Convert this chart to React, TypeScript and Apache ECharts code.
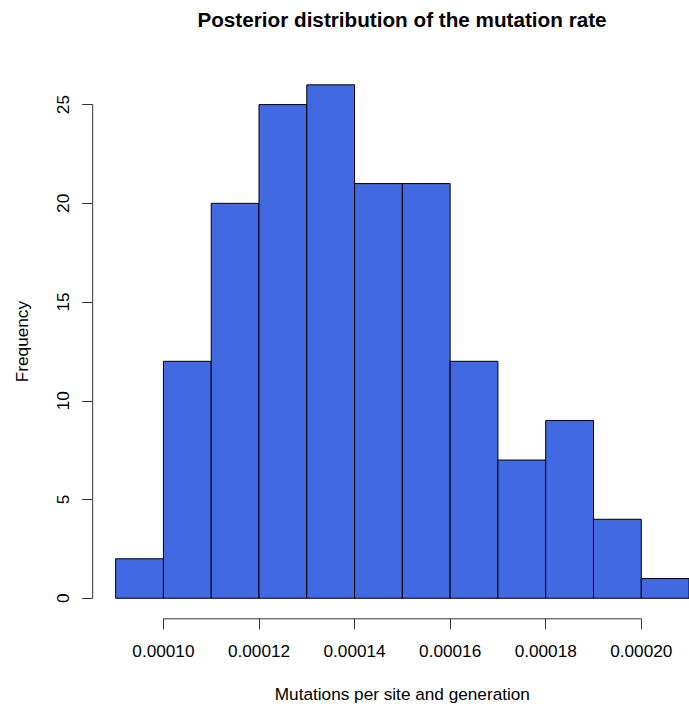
import React, { useEffect, useRef } from "react";
import * as echarts from "echarts";

// Histogram bin edges (mutations per site and generation)
const binEdges = [0.00009, 0.0001, 0.00011, 0.00012, 0.00013, 0.00014, 0.00015, 0.00016, 0.00017, 0.00018, 0.00019, 0.0002, 0.00021];
// Frequencies per bin
const counts = [2, 12, 20, 25, 26, 21, 21, 12, 7, 9, 4, 1];
// Axis tick values
const xTicks = [0.0001, 0.00012, 0.00014, 0.00016, 0.00018, 0.0002];
const yTicks = [0, 5, 10, 15, 20, 25];

const titleText = "Posterior distribution of the mutation rate";
const xTitle = "Mutations per site and generation";
const yTitle = "Frequency";

export default function App() {
  const ref = useRef<HTMLDivElement>(null);
  useEffect(() => {
    if (!ref.current) return;
    const chart = echarts.init(ref.current, null, { renderer: "svg" });
    const xMin = binEdges[0] - (binEdges[binEdges.length - 1] - binEdges[0]) * 0.04;
    const xMax = binEdges[binEdges.length - 1] + (binEdges[binEdges.length - 1] - binEdges[0]) * 0.04;
    const yTop = Math.max(...counts);
    const yMin = -yTop * 0.04;
    const yMax = yTop * 1.04;
    const font = "'Liberation Sans', Arial, Helvetica, sans-serif";
    const histData = counts.map((c, i) => [binEdges[i], binEdges[i + 1], c]);
    chart.setOption({
      animation: false,
      backgroundColor: "#ffffff",
      title: {
        text: titleText,
        left: 402,
        top: 9,
        padding: 0,
        textAlign: "center",
        textStyle: { fontFamily: font, fontSize: 20.7, fontWeight: "bold", color: "#000" },
      },
      grid: {
        left: 92.7,
        top: 64.3,
        width: 619.3,
        height: 554.5,
        containLabel: false,
        outerBoundsMode: "none",
      },
      xAxis: {
        type: "value",
        min: xMin,
        max: xMax,
        name: xTitle,
        nameLocation: "middle",
        nameGap: 67,
        nameTextStyle: { fontFamily: font, fontSize: 17.2, color: "#000" },
        axisLine: { show: false, onZero: false },
        splitLine: { show: false },
        axisTick: { show: true, length: 10.5, customValues: xTicks, lineStyle: { color: "#333", width: 1 } },
        axisLabel: {
          show: true,
          customValues: xTicks,
          formatter: (v: number) => v.toFixed(5),
          margin: 24,
          fontFamily: font,
          fontSize: 17.2,
          color: "#000",
        },
      },
      yAxis: {
        type: "value",
        min: yMin,
        max: yMax,
        name: yTitle,
        nameLocation: "middle",
        nameGap: 62,
        nameRotate: 90,
        nameTextStyle: { fontFamily: font, fontSize: 17.2, color: "#000" },
        axisLine: { show: false, onZero: false },
        splitLine: { show: false },
        axisTick: { show: true, length: 10.5, customValues: yTicks, lineStyle: { color: "#333", width: 1 } },
        axisLabel: {
          show: true,
          customValues: yTicks,
          rotate: 90,
          margin: 21,
          fontFamily: font,
          fontSize: 17.2,
          color: "#000",
        },
      },
      series: [
        {
          type: "custom",
          data: histData,
          encode: { x: [0, 1], y: 2 },
          renderItem: (params: any, api: any) => {
            const p0 = api.coord([api.value(0), api.value(2)]);
            const p1 = api.coord([api.value(1), 0]);
            return {
              type: "rect",
              shape: { x: p0[0], y: p0[1], width: p1[0] - p0[0], height: p1[1] - p0[1] },
              style: { fill: "#4169E1", stroke: "#000", lineWidth: 1 },
            };
          },
        },
        {
          type: "line",
          data: [[xTicks[0], yMin], [xTicks[xTicks.length - 1], yMin]],
          symbol: "none",
          lineStyle: { color: "#333", width: 1 },
          clip: false,
          silent: true,
        },
        {
          type: "line",
          data: [[xMin, yTicks[0]], [xMin, yTicks[yTicks.length - 1]]],
          symbol: "none",
          lineStyle: { color: "#333", width: 1 },
          clip: false,
          silent: true,
        },
      ],
    });
    return () => chart.dispose();
  }, []);
  return <div ref={ref} style={{ position: "fixed", left: 0, top: 0, width: 689, height: 704 }} />;
}
